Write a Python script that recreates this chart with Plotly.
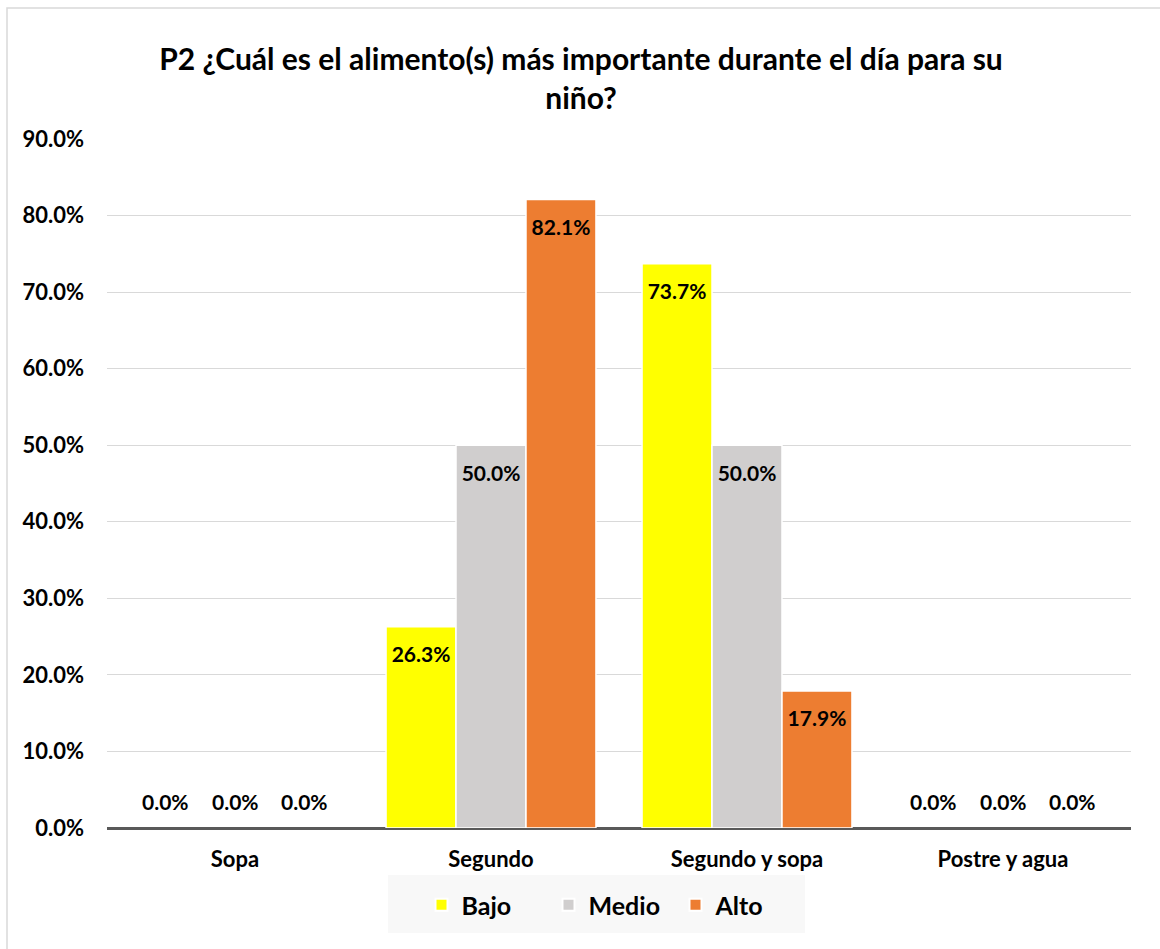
import plotly.graph_objects as go

categories = ["Sopa", "Segundo", "Segundo y sopa", "Postre y agua"]
bajo = [0.0, 26.3, 73.7, 0.0]
medio = [0.0, 50.0, 50.0, 0.0]
alto = [0.0, 82.1, 17.9, 0.0]
series_names = ["Bajo", "Medio", "Alto"]
series_colors = ["#FFFF00", "#D0CECE", "#ED7D31"]
y_ticks = [0, 10, 20, 30, 40, 50, 60, 70, 80, 90]

FONT = "Lato, 'Open Sans', sans-serif"

L, R, T, B = 107, 29, 139, 121
W, H = 1160, 949
pw, ph = W - L - R, H - T - B
BARGAP = 0.18


def px_x(x):
    return (x - L) / pw


def px_y(y):
    return (T + ph - y) / ph


label_font = dict(family=FONT, size=21, color="black", weight="bold")
SPACER = "<span style='font-size:5px'> </span>"

fig = go.Figure()
all_series = [bajo, medio, alto]
for name, vals, color in zip(series_names, all_series, series_colors):
    fig.add_trace(go.Bar(
        x=categories,
        y=vals,
        name=name,
        marker=dict(color=color,
                    line=dict(color="white", width=[0 if v == 0 else 1.5 for v in vals])),
        # short spacer line pushes the value a little below the bar top
        text=["" if v == 0 else f"{SPACER}<br>{v:.1f}%" for v in vals],
        textposition="inside",
        insidetextanchor="end",
        textfont=label_font,
        cliponaxis=False,
    ))

# labels for zero-height bars sit just above the axis line
slot_px = pw / len(categories) * (1 - BARGAP) / len(all_series)
for k, vals in enumerate(all_series):
    shift = (k - (len(all_series) - 1) / 2) * slot_px
    for cat, v in zip(categories, vals):
        if v == 0:
            fig.add_annotation(
                x=cat, y=v, xref="x", yref="y",
                text=f"{v:.1f}%", showarrow=False,
                xshift=shift, yshift=27, yanchor="middle",
                font=label_font,
            )

fig.update_layout(
    width=W, height=H,
    margin=dict(l=L, r=R, t=T, b=B),
    paper_bgcolor="white",
    plot_bgcolor="white",
    barmode="group",
    bargap=BARGAP,
    bargroupgap=0.0,
    font=dict(family=FONT, color="black"),
    title=dict(
        text="P2 ¿Cuál es el alimento(s) más importante durante el día para su<br>niño?",
        x=581 / W, xanchor="center",
        y=1 - 70 / H, yanchor="middle",
        font=dict(family=FONT, size=30, color="black", weight="bold"),
    ),
    legend=dict(
        orientation="h",
        x=px_x(612), xanchor="center",
        y=px_y(905), yanchor="middle",
        bgcolor="rgba(0,0,0,0)",
        font=dict(family=FONT, size=25, color="black", weight="bold"),
        itemsizing="constant",
        traceorder="normal",
        entrywidth=82,
        entrywidthmode="pixels",
    ),
)

fig.update_xaxes(
    showgrid=False,
    showline=False,
    ticks="",
    tickfont=dict(family=FONT, size=22, color="black", weight="bold"),
    ticklabelstandoff=16,
)
fig.update_yaxes(
    range=[0, 90],
    tickvals=y_ticks,
    ticktext=[f"{v:.1f}%" for v in y_ticks],
    showgrid=True,
    gridcolor="#D9D9D9",
    gridwidth=1,
    zeroline=True,
    zerolinecolor="#595959",
    zerolinewidth=3,
    showline=False,
    ticks="",
    tickfont=dict(family=FONT, size=22, color="black", weight="bold"),
    ticklabelstandoff=22,
)

# chart frame
fig.add_shape(
    type="rect", xref="paper", yref="paper",
    x0=px_x(7), x1=px_x(1200), y0=px_y(990), y1=px_y(8),
    line=dict(color="#D9D9D9", width=1.5),
    fillcolor="rgba(0,0,0,0)",
    layer="below",
)
# legend panel
fig.add_shape(
    type="rect", xref="paper", yref="paper",
    x0=px_x(388), x1=px_x(805), y0=px_y(933), y1=px_y(875),
    line=dict(width=0),
    fillcolor="#F8F8F8",
    layer="below",
)

fig.write_html("out.html")
